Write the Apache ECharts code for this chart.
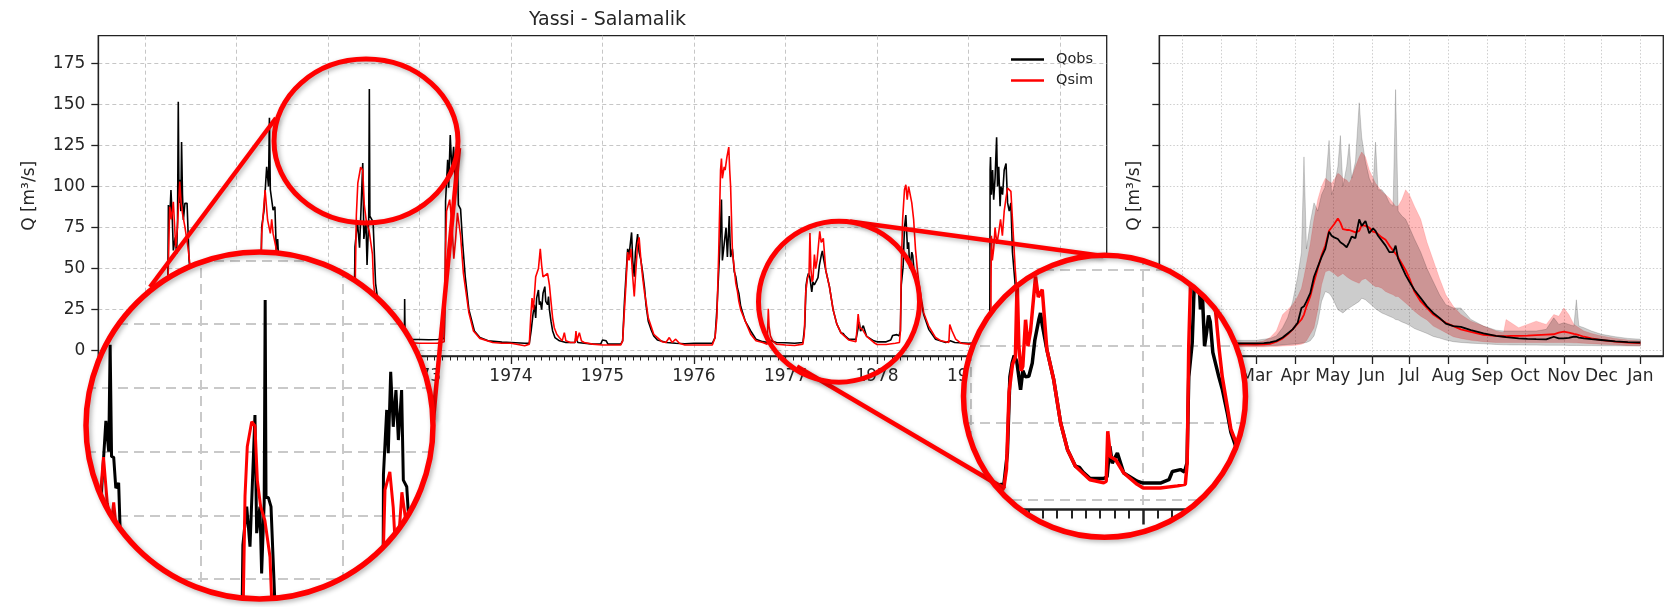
<!DOCTYPE html>
<html>
<head>
<meta charset="utf-8">
<script src="https://cdn.jsdelivr.net/npm/echarts@6/dist/echarts.min.js"></script>
<style>
html,body{margin:0;padding:0;background:#fff;}
#wrap{position:relative;width:1670px;height:607px;overflow:hidden;background:#fff;}
#main{position:absolute;left:0;top:0;width:1670px;height:607px;}
.inset{position:absolute;border-radius:50%;overflow:hidden;background:#fff;}
#overlay{position:absolute;left:0;top:0;width:1670px;height:607px;pointer-events:none;}
</style>
</head>
<body>
<div id="wrap">
  <div id="main"></div>
  <div id="insetL" class="inset"></div>
  <div id="insetR" class="inset"></div>
  <div id="overlay"></div>
</div>
<script>
// ---------------- DATA ----------------
const titleText = 'Yassi - Salamalik';
const yLabel = 'Q [m³/s]';
const seriesNames = ['Qobs', 'Qsim'];
const yearTicks = [1970, 1971, 1972, 1973, 1974, 1975, 1976, 1977, 1978, 1979, 1980];
const qTicks = [0, 25, 50, 75, 100, 125, 150, 175];
const monthLabels = ['Jan','Feb','Mar','Apr','May','Jun','Jul','Aug','Sep','Oct','Nov','Dec','Jan'];
const monthStartDays = [0, 31, 59, 90, 120, 151, 181, 212, 243, 273, 304, 334, 365];

// observed daily discharge, [decimal year, Q]
const qobs = [
[1970.00,6],[1970.10,5.2],[1970.20,5],[1970.235,9],[1970.25,40],[1970.256,88.7],[1970.27,80],[1970.284,97.8],[1970.299,79.6],[1970.31,61],[1970.33,69],[1970.346,59],[1970.356,80],[1970.364,151.6],[1970.372,90],[1970.38,104],[1970.392,85],[1970.40,127],[1970.41,95],[1970.42,79.6],[1970.436,89.7],[1970.46,89.7],[1970.482,55],[1970.51,39],[1970.55,25],[1970.62,13],[1970.7,8.5],[1970.85,6.5],
[1971.0,5.5],[1971.2,5],[1971.25,8],[1971.265,40],[1971.276,75.5],[1971.30,85],[1971.33,112],[1971.35,100],[1971.36,141.9],[1971.37,98],[1971.385,97.8],[1971.40,85.6],[1971.42,87.7],[1971.435,61],[1971.45,68],[1971.47,45],[1971.5,33],[1971.54,22],[1971.6,13],[1971.7,8.5],[1971.85,6.8],
[1972.0,6.2],[1972.2,5.8],[1972.27,7],[1972.29,40],[1972.295,63.3],[1972.322,78.4],[1972.345,62.7],[1972.357,80.3],[1972.38,114.3],[1972.392,68],[1972.415,78.4],[1972.427,52.2],[1972.445,80],[1972.452,159.4],[1972.458,82],[1972.474,82],[1972.493,78.4],[1972.52,41],[1972.55,28],[1972.6,18],[1972.7,10],[1972.8,7.5],[1972.835,8],[1972.838,31.5],[1972.842,9],[1972.86,7.2],[1972.9,6.9],
[1973.0,6.8],[1973.1,6.7],[1973.2,6.8],[1973.27,7.5],[1973.282,40],[1973.285,91],[1973.308,116.3],[1973.319,99.3],[1973.336,131.3],[1973.354,109.7],[1973.373,124.1],[1973.39,104.5],[1973.413,124.1],[1973.425,88.8],[1973.449,86.2],[1973.472,65.3],[1973.50,45],[1973.54,25],[1973.6,12],[1973.66,8],[1973.75,6],[1973.9,5.2],
[1974.0,5],[1974.15,4.5],[1974.20,4.5],[1974.22,12],[1974.24,22],[1974.255,28],[1974.27,20],[1974.28,32],[1974.30,37],[1974.31,28],[1974.32,30],[1974.335,25],[1974.35,35],[1974.37,39],[1974.38,30],[1974.40,28],[1974.41,33],[1974.42,25],[1974.437,18],[1974.455,12],[1974.48,8],[1974.53,6],[1974.6,5],[1974.70,5],[1974.71,8.5],[1974.73,5],[1974.8,4.5],[1974.9,4],[1974.98,4],
[1975.0,6.5],[1975.04,6],[1975.06,4],[1975.2,4],[1975.22,6],[1975.24,30],[1975.256,45],[1975.275,62],[1975.29,58],[1975.318,72],[1975.33,55],[1975.347,45],[1975.36,60],[1975.384,71],[1975.40,60],[1975.42,55],[1975.438,48],[1975.46,38],[1975.475,28],[1975.5,18],[1975.53,13],[1975.56,9],[1975.6,6.5],[1975.7,5],[1975.8,4.5],[1975.9,4.2],
[1976.0,4.5],[1976.2,4.5],[1976.23,8],[1976.25,25],[1976.28,60],[1976.30,92],[1976.31,55],[1976.33,65],[1976.35,75],[1976.365,57],[1976.385,82],[1976.40,57],[1976.42,62],[1976.44,48],[1976.457,45],[1976.475,38],[1976.49,35],[1976.51,27],[1976.56,18],[1976.62,12],[1976.677,7],[1976.75,5.5],[1976.81,5],[1976.84,6],[1976.9,5],
[1977.0,4.8],[1977.1,4.5],[1977.19,5],[1977.21,15],[1977.225,40],[1977.238,44.5],[1977.25,47],[1977.265,45],[1977.287,35.8],[1977.30,42],[1977.315,40],[1977.335,40.2],[1977.355,44.5],[1977.37,52],[1977.393,58.6],[1977.403,60.8],[1977.413,57],[1977.44,48.9],[1977.48,39],[1977.52,25],[1977.56,16.3],[1977.606,10.9],[1977.63,10.5],[1977.65,9],[1977.69,7],[1977.77,6.9],[1977.79,7.5],[1977.806,17.4],[1977.82,11.9],[1977.85,15.2],[1977.887,8.7],[1977.965,6],
[1978.0,5.4],[1978.1,5.4],[1978.15,6.5],[1978.17,9.2],[1978.217,9.8],[1978.24,9],[1978.255,12],[1978.265,40],[1978.285,51],[1978.30,75],[1978.315,82.6],[1978.333,62],[1978.345,66],[1978.357,50],[1978.37,55],[1978.38,60],[1978.39,58],[1978.405,48],[1978.44,40],[1978.46,36],[1978.49,28],[1978.51,22],[1978.565,13],[1978.64,7],[1978.75,5],[1978.8,6],[1978.85,5],
[1979.0,4.5],[1979.2,5],[1979.232,6],[1979.236,110],[1979.24,118],[1979.25,95],[1979.263,110],[1979.275,92],[1979.29,105],[1979.307,130],[1979.317,100],[1979.33,112],[1979.345,88],[1979.354,100],[1979.372,95],[1979.39,110],[1979.41,114],[1979.427,90],[1979.445,85],[1979.463,90],[1979.48,60],[1979.51,40],[1979.536,25],[1979.58,15],[1979.65,9],[1979.75,6],[1979.85,5],[1979.997,4.5]
];

// simulated daily discharge, [decimal year, Q]
const qsim = [
[1970.00,5],[1970.10,4.2],[1970.20,4.2],[1970.24,10],[1970.255,50],[1970.27,87.7],[1970.29,80],[1970.31,90.7],[1970.336,63],[1970.355,75],[1970.38,103],[1970.395,90],[1970.41,83.6],[1970.436,75.5],[1970.47,63],[1970.51,43],[1970.55,28],[1970.62,14],[1970.7,8],[1970.85,5.5],
[1971.0,4.6],[1971.2,4.3],[1971.25,8],[1971.265,45],[1971.276,71.4],[1971.295,85],[1971.313,97.8],[1971.34,79.6],[1971.37,71.4],[1971.385,80],[1971.40,71.4],[1971.43,63.3],[1971.46,48],[1971.5,32],[1971.54,20],[1971.6,12],[1971.7,7.5],[1971.85,5.5],
[1972.0,5],[1972.2,4.6],[1972.28,6],[1972.298,41.2],[1972.31,82.5],[1972.326,102],[1972.357,111.7],[1972.38,110],[1972.397,88.6],[1972.42,78.4],[1972.45,73],[1972.486,58.6],[1972.498,41],[1972.52,30],[1972.56,18],[1972.6,12],[1972.7,7],[1972.8,5.5],[1972.9,4.8],
[1973.0,4.5],[1973.2,4.6],[1973.27,5.5],[1973.284,60],[1973.296,85],[1973.33,92],[1973.354,78],[1973.375,56],[1973.395,68],[1973.415,84],[1973.449,70],[1973.48,47],[1973.54,23],[1973.59,12],[1973.66,7.5],[1973.8,5],[1973.9,4.5],
[1974.0,4.5],[1974.15,3],[1974.20,4],[1974.215,20],[1974.23,32],[1974.245,25],[1974.27,45],[1974.30,50],[1974.32,62],[1974.335,52],[1974.35,45],[1974.37,46],[1974.40,47],[1974.42,40],[1974.437,30],[1974.455,20],[1974.473,14],[1974.50,10],[1974.528,8],[1974.56,6],[1974.583,11],[1974.60,6],[1974.65,5],[1974.70,5],[1974.71,12],[1974.72,6],[1974.747,11],[1974.77,6],[1974.8,5],[1974.89,4],
[1975.0,3.5],[1975.2,3.5],[1975.22,6],[1975.24,25],[1975.256,40],[1975.275,60],[1975.29,55],[1975.31,62],[1975.33,45],[1975.347,33],[1975.36,45],[1975.384,65],[1975.40,69],[1975.42,55],[1975.438,45],[1975.46,35],[1975.475,30],[1975.50,20],[1975.53,15],[1975.56,10],[1975.60,8],[1975.65,5.5],[1975.693,5],[1975.73,8],[1975.76,5],[1975.8,7],[1975.84,4.5],[1975.9,3.5],
[1976.0,3.5],[1976.2,3.5],[1976.23,8],[1976.25,20],[1976.27,60],[1976.29,110],[1976.30,117],[1976.31,105],[1976.33,112],[1976.34,110],[1976.36,118],[1976.38,124],[1976.39,110],[1976.40,100],[1976.42,60],[1976.44,50],[1976.457,41],[1976.475,36],[1976.49,30],[1976.51,25],[1976.56,18],[1976.62,10],[1976.677,6],[1976.75,5],[1976.80,4],[1976.812,25.5],[1976.82,15],[1976.835,9],[1976.86,6],[1976.9,4],
[1977.0,3.5],[1977.1,3.2],[1977.19,4],[1977.205,10],[1977.22,35],[1977.24,44],[1977.257,46.6],[1977.267,71.7],[1977.277,50],[1977.29,42],[1977.30,43.4],[1977.316,58.6],[1977.33,50],[1977.345,55],[1977.374,72.7],[1977.39,66],[1977.413,68.4],[1977.44,48.9],[1977.48,39],[1977.52,25],[1977.56,16.3],[1977.606,10.9],[1977.69,6.5],[1977.77,5.5],[1977.785,6],[1977.794,22.3],[1977.81,14],[1977.84,13],[1977.887,8.7],[1977.965,5],
[1978.0,3.8],[1978.1,3.8],[1978.2,4.5],[1978.245,5],[1978.256,12],[1978.265,50],[1978.28,80],[1978.30,98],[1978.315,101],[1978.33,92],[1978.345,100],[1978.36,101],[1978.38,90],[1978.40,80],[1978.42,62],[1978.44,50],[1978.46,40],[1978.49,30],[1978.51,23],[1978.565,15],[1978.64,8],[1978.7,6],[1978.785,5],[1978.795,16],[1978.82,12],[1978.86,7],[1978.92,4.5],
[1979.0,4],[1979.2,4.5],[1979.244,5],[1979.246,40],[1979.25,70],[1979.26,55],[1979.275,62],[1979.29,75],[1979.31,65],[1979.33,72],[1979.35,80],[1979.37,70],[1979.39,85],[1979.41,93],[1979.427,99],[1979.445,100],[1979.463,97],[1979.48,80],[1979.51,50],[1979.536,30],[1979.56,20],[1979.6,14],[1979.65,9],[1979.75,6],[1979.85,5],[1979.997,4]
];

// mean annual cycle (day of year) and envelopes
const doy = [0,15,30,45,59, 65,70,75,80,84, 88,92,95,97,99, 102,105,108,111,114, 117,119,121,124,126, 128,131,133,135,138, 141,143,146,149,152, 154,156,159,162,165, 168,170,172,175,178, 181,185,190,195,200, 205,210,216,222,230, 240,250,256,258,262, 268,275,282,290,296, 300,304,308,312,314, 316,320,326,334,345, 355,365];
const obsMean = [4.8,4.7,4.6,4.5,4.5, 4.6,5.0,6.0,8.0,10.5, 13,17,26,27,30, 35,45,51,57,62, 72.5,70,69,68,66, 65,63,66,69.5,68.5, 80,76,79,71.5,74.5, 73,70,67,64,60, 60,64,56,51,46, 42,37,32,27,23, 20,16.5,15,14.5,12.5, 10.5,9,8.5,8.3,8, 7.5,7.2,7,6.9,8.5, 7.5,7.5,7.8,8.5,8.5, 8,7.5,7,6.5,5.7, 5.2,5];
const simMean = [4.2,4.0,3.9,3.8,3.7, 3.8,4.2,5.5,7.5,10, 13,16.5,19,22,27, 33,42,50,58,64, 73,75,77,80.5,78, 74,73.5,73.5,73,72, 73,76.5,76,75,72.5, 72,71,69,67.5,64, 61,59,57,53,49, 44,36,30,26,22, 19.5,17,15,13,11.5, 9.7,9,8.8,8.8,9, 9,9.2,9.5,9.8,10, 11,11.6,11,10.3,10, 9.5,8.5,7.5,6.5,5.5, 4.9,4.6];
const obsMin = [2.9,2.9,2.8,2.8,2.8, 2.8,3.0,3.2,3.5,3.8, 4.0,4.3,4.6,4.8,5, 6,9,17,30,36, 35,33,30,25,24, 23,25,26,27,28.5, 30,32,31,29,27, 25.5,24.5,23,22,21, 20,19,18.7,17.5,16.6, 15.5,13.5,12,10.5,8.7, 7.7,6.5,5.5,5,4.6, 4.2,3.8,3.6,3.6,3.5, 3.5,3.4,3.4,3.3,3.3, 3.3,3.3,3.2,3.2,3.2, 3.2,3.1,3.1,3,3, 2.9,2.8];
const obsMax = [6.5,6.5,6.4,6.3,6.3, 7.0,7.5,9,14,20, 30,45,60,118,62, 78,90,85,95,100, 128,95,100,112,131, 100,112,126,105,115, 151,130,115,105,100, 127,98,98,95,90, 88,159,85,82,80, 75,68,60,50,42, 34,28,26,26,19, 15,12.5,12,12,12, 12,12,12,13,20, 16,17,16,15,31, 15,14,12,10,8.5, 7.5,7];
const simMin = [2.4,2.4,2.3,2.3,2.3, 2.3,2.5,2.6,2.8,3.0, 3.2,3.5,4,4.5,6, 10,14,25,40,48, 49,48,47,45,46, 47,45,44,43,42, 41,43,44,42,40, 39,39,38,36,35, 34,33,33,31,29, 27,24,21,18.7,15, 13,11,8.5,7.5,6.3, 5.5,5,5,5,5, 5,5,5,5,5, 5,5,5,4.8,4.8, 4.7,4.5,4.3,4,3.6, 3.2,3];
const simMax = [5.5,5.3,5.2,5.1,5.2, 6,8,12,22,25, 28,33,38,45,53, 65,80,92,100,105, 103,102,104,108,107, 105,104,102,105,112, 118,121,118,110,105, 102,100,97,95,93, 90,88,88,92,98, 95,88,80,66,55, 44,34,27,22,18, 15,12,11,19,17, 14,16,18,16,22, 21,26,22,16,15, 14,12,10.5,9,7.5, 6.5,6];

// ---------------- STYLE / LAYOUT ----------------
const FONT = 'DejaVu Sans';
const TXT = '#262626';
const AX = '#222';
const RED = '#ff0000';
const qMin = -3.23, qMax = 191.8;
const tMin = 1969.49, tMax = 1980.51;
const dMin = -18.25, dMax = 383.25;

const monthMinor = [];
for (let y = 1969; y <= 1980; y++) {
  for (let m = 1; m < 12; m++) {
    const v = y + m / 12;
    if (v > tMin && v < tMax) monthMinor.push(v);
  }
}

const mainGrid = {left: 98.3, top: 35.7, width: 1008.4, height: 320.3};
const seasGrid = {left: 1159.3, top: 35.7, width: 504, height: 320.3};

const dashMain = {type: [4, 3], color: '#c6c6c6', width: 1};
const dotSeas = {type: [1.5, 2], color: '#cdcdcd', width: 1};

function bandSeries(name, lo, hi, fill, stroke) {
  return {
    type: 'custom', name: name, xAxisIndex: 2, yAxisIndex: 1, silent: true, z: 1,
    data: doy.map((d, i) => [d, lo[i], hi[i]]),
    encode: {x: 0, y: [1, 2]},
    renderItem: function (params, api) {
      if (params.dataIndex !== 0) return null;
      const top = [], bot = [];
      for (let i = 0; i < doy.length; i++) {
        top.push(api.coord([doy[i], hi[i]]));
        bot.push(api.coord([doy[i], lo[i]]));
      }
      return {type: 'polygon', shape: {points: top.concat(bot.reverse())},
              style: {fill: fill, stroke: stroke, lineWidth: 1}};
    }
  };
}

const labelStyle = {fontFamily: FONT, fontSize: 17, color: TXT};

const mainChart = echarts.init(document.getElementById('main'));
mainChart.setOption({
  animation: false,
  backgroundColor: '#fff',
  title: {
    text: titleText, left: mainGrid.left + mainGrid.width / 2, textAlign: 'center', top: 6,
    textStyle: {fontFamily: FONT, fontSize: 19, fontWeight: 'normal', color: TXT}
  },
  legend: {
    data: seriesNames, orient: 'vertical', left: 1006, top: 47,
    icon: 'rect', itemWidth: 33, itemHeight: 2.5, itemGap: 6,
    textStyle: {fontFamily: FONT, fontSize: 14.5, color: TXT, padding: [0, 0, 0, 7]}
  },
  grid: [
    Object.assign({show: true, borderColor: AX, borderWidth: 1.3}, mainGrid),
    Object.assign({show: true, borderColor: AX, borderWidth: 1.3}, seasGrid)
  ],
  xAxis: [
    {
      type: 'value', gridIndex: 0, min: tMin, max: tMax,
      axisLine: {onZero: false, lineStyle: {color: AX, width: 1.3}},
      axisTick: {customValues: yearTicks, length: 8, lineStyle: {color: AX, width: 1.3}},
      axisLabel: Object.assign({customValues: yearTicks, margin: 12, formatter: v => String(Math.round(v))}, labelStyle),
      splitLine: {show: true, lineStyle: dashMain}
    },
    {
      type: 'value', gridIndex: 0, min: tMin, max: tMax, position: 'bottom',
      axisLine: {show: false, onZero: false},
      axisTick: {customValues: monthMinor, length: 4.5, lineStyle: {color: AX, width: 1}},
      axisLabel: {show: false}, splitLine: {show: false}
    },
    {
      type: 'value', gridIndex: 1, min: dMin, max: dMax,
      axisLine: {onZero: false, lineStyle: {color: AX, width: 1.3}},
      axisTick: {customValues: monthStartDays, length: 8, lineStyle: {color: AX, width: 1.3}},
      axisLabel: Object.assign({
        customValues: monthStartDays, margin: 12,
        formatter: v => { const i = monthStartDays.findIndex(d => Math.abs(d - v) < 0.5); return i >= 0 ? monthLabels[i] : ''; }
      }, labelStyle),
      splitLine: {show: true, lineStyle: dotSeas}
    }
  ],
  yAxis: [
    {
      type: 'value', gridIndex: 0, min: qMin, max: qMax,
      name: yLabel, nameLocation: 'middle', nameGap: 60, nameRotate: 90,
      nameTextStyle: {fontFamily: FONT, fontSize: 17, color: TXT},
      axisLine: {show: true, onZero: false, lineStyle: {color: AX, width: 1.3}},
      axisTick: {show: true, customValues: qTicks, length: 7, lineStyle: {color: AX, width: 1.3}},
      axisLabel: Object.assign({customValues: qTicks, margin: 13}, labelStyle),
      splitLine: {show: true, lineStyle: dashMain}
    },
    {
      type: 'value', gridIndex: 1, min: qMin, max: qMax,
      name: yLabel, nameLocation: 'middle', nameGap: 16, nameRotate: 90,
      nameTextStyle: {fontFamily: FONT, fontSize: 17, color: TXT},
      axisLine: {show: true, onZero: false, lineStyle: {color: AX, width: 1.3}},
      axisTick: {show: true, customValues: qTicks, length: 7, lineStyle: {color: AX, width: 1.3}},
      axisLabel: {show: false},
      splitLine: {show: true, lineStyle: dotSeas}
    }
  ],
  series: [
    {name: 'Qobs', type: 'line', xAxisIndex: 0, yAxisIndex: 0, data: qobs, showSymbol: false, symbol: 'none',
     color: '#000', lineStyle: {color: '#000', width: 1.6}, z: 3},
    {name: 'Qsim', type: 'line', xAxisIndex: 0, yAxisIndex: 0, data: qsim, showSymbol: false, symbol: 'none',
     color: RED, lineStyle: {color: RED, width: 1.6}, z: 4},
    bandSeries('simBand', simMin, simMax, 'rgba(255,0,0,0.265)', 'rgba(255,0,0,0.12)'),
    bandSeries('obsBand', obsMin, obsMax, 'rgba(0,0,0,0.2)', 'rgba(0,0,0,0.16)'),
    {name: 'Qsim', type: 'line', xAxisIndex: 2, yAxisIndex: 1, data: doy.map((d, i) => [d, simMean[i]]),
     showSymbol: false, symbol: 'none', color: RED, lineStyle: {color: RED, width: 1.8}, z: 4},
    {name: 'Qobs', type: 'line', xAxisIndex: 2, yAxisIndex: 1, data: doy.map((d, i) => [d, obsMean[i]]),
     showSymbol: false, symbol: 'none', color: '#000', lineStyle: {color: '#000', width: 1.8}, z: 5}
  ]
});

// ---------------- MAGNIFIER INSETS ----------------
const ringL = {cx: 259.5, cy: 425.5, r: 173.5};
const ringR = {cx: 1104.5, cy: 396.3, r: 141};
const smallL = {cx: 366, cy: 141, rx: 92, ry: 82};
const smallR = {cx: 839, cy: 301.7, r: 80.5};

function placeInset(id, ring) {
  const el = document.getElementById(id);
  el.style.left = (ring.cx - ring.r) + 'px';
  el.style.top = (ring.cy - ring.r) + 'px';
  el.style.width = (2 * ring.r) + 'px';
  el.style.height = (2 * ring.r) + 'px';
  return el;
}
const insetDash = {type: [10, 6], color: '#c9c9c9', width: 2};

const elL = placeInset('insetL', ringL);
const insetL = echarts.init(elL);
insetL.setOption({
  animation: false, backgroundColor: '#fff',
  grid: {left: 0, top: 0, width: 2 * ringL.r, height: 2 * ringL.r},
  xAxis: {type: 'value', min: 1971.19, max: 1973.634,
    axisLine: {show: false, onZero: false}, axisTick: {show: false, customValues: [1972, 1973]},
    axisLabel: {show: false}, splitLine: {show: true, lineStyle: insetDash}},
  yAxis: {type: 'value', min: 42.16, max: 178.24,
    axisLine: {show: false, onZero: false}, axisTick: {show: false, customValues: qTicks},
    axisLabel: {show: false}, splitLine: {show: true, lineStyle: insetDash}},
  series: [
    {type: 'line', data: qobs, symbol: 'none', lineStyle: {color: '#000', width: 3}, z: 3},
    {type: 'line', data: qsim, symbol: 'none', lineStyle: {color: RED, width: 3}, z: 4}
  ]
});

const elR = placeInset('insetR', ringR);
const insetR = echarts.init(elR);
const rAxisY = 500 + 3.23 * 3.07; // pixel row of the axis floor inside the magnified view
insetR.setOption({
  animation: false, backgroundColor: '#fff',
  grid: {left: 0, top: 0, width: 2 * ringR.r, height: rAxisY - (ringR.cy - ringR.r)},
  xAxis: [
    {type: 'value', min: 1976.958, max: 1978.598,
     axisLine: {show: true, onZero: false, lineStyle: {color: AX, width: 2.5}},
     axisTick: {show: true, customValues: [1977, 1978], length: 15, lineStyle: {color: AX, width: 2.5}},
     axisLabel: {show: false}, splitLine: {show: true, lineStyle: insetDash}},
    {type: 'value', min: 1976.958, max: 1978.598, position: 'bottom',
     axisLine: {show: false, onZero: false},
     axisTick: {show: true, customValues: monthMinor, length: 9, lineStyle: {color: AX, width: 2}},
     axisLabel: {show: false}, splitLine: {show: false}}
  ],
  yAxis: {type: 'value', min: qMin, max: 79.7,
    axisLine: {show: false, onZero: false}, axisTick: {show: false, customValues: [0, 25, 50, 75]},
    axisLabel: {show: false}, splitLine: {show: true, lineStyle: insetDash}},
  series: [
    {type: 'line', data: qobs, symbol: 'none', lineStyle: {color: '#000', width: 3.5}, z: 3},
    {type: 'line', data: qsim, symbol: 'none', lineStyle: {color: RED, width: 3.5}, z: 4}
  ]
});

// ---------------- ANNOTATION OVERLAY ----------------
const shadow = {shadowBlur: 5, shadowColor: 'rgba(0,0,0,0.3)', shadowOffsetX: 2, shadowOffsetY: 2};
function lineEl(x1, y1, x2, y2) {
  return {type: 'line', shape: {x1, y1, x2, y2}, style: Object.assign({stroke: RED, lineWidth: 4.5}, shadow), z: 1};
}
function ringStyle(w) { return Object.assign({fill: 'none', stroke: RED, lineWidth: w}, shadow); }

const overlay = echarts.init(document.getElementById('overlay'));
overlay.setOption({
  animation: false,
  graphic: [
    lineEl(276, 118, 150, 287),
    lineEl(459, 148, 433, 420),
    lineEl(850, 221.5, 1103, 256),
    lineEl(797, 366.5, 1005, 489),
    {type: 'ellipse', shape: {cx: smallL.cx, cy: smallL.cy, rx: smallL.rx, ry: smallL.ry}, style: ringStyle(5), z: 2},
    {type: 'circle', shape: {cx: smallR.cx, cy: smallR.cy, r: smallR.r}, style: ringStyle(5), z: 2},
    {type: 'circle', shape: {cx: ringL.cx, cy: ringL.cy, r: ringL.r}, style: ringStyle(5.5), z: 2},
    {type: 'circle', shape: {cx: ringR.cx, cy: ringR.cy, r: ringR.r}, style: ringStyle(5.5), z: 2}
  ]
});
</script>
</body>
</html>
